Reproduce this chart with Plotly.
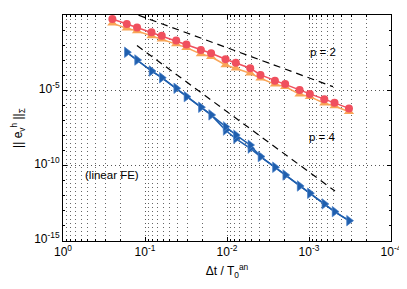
import plotly.graph_objects as go

# time step sizes dt / T0
dt = [0.25, 0.1667, 0.125, 0.08333, 0.0625, 0.04167, 0.03125, 0.02083, 0.015625, 0.01042,
      0.0078125, 0.005208, 0.003906, 0.002604, 0.001953, 0.001302, 0.0009766, 0.000651,
      0.0004883, 0.0003255]
dt_p4 = dt[1:]

# p = 2 errors
err_red = [5.4e-1, 2.5e-1, 1.5e-1, 7.1e-2, 4.2e-2, 2.0e-2, 1.1e-2, 4.8e-3, 2.9e-3, 1.15e-3,
           6.8e-4, 2.9e-4, 1.05e-4, 4.4e-5, 2.6e-5, 1.05e-5, 5.8e-6, 2.6e-6, 1.5e-6, 6.3e-7]
err_orange = [2.8e-1, 1.3e-1, 8.7e-2, 4.1e-2, 2.45e-2, 1.2e-2, 6.8e-3, 2.6e-3, 1.7e-3, 4.8e-4,
              2.9e-4, 1.35e-4, 6.3e-5, 2.5e-5, 1.74e-5, 5.5e-6, 3.8e-6, 1.38e-6, 9.1e-7, 3.8e-7]
# p = 4 errors
err_blue = [3.35e-3, 1.03e-3, 1.92e-4, 6.9e-5, 1.37e-5, 3.8e-6, 7.6e-7, 2.34e-7, 3.9e-8, 1.1e-8,
            2.34e-9, 4.0e-10, 7.9e-11, 2.4e-11, 4.5e-12, 1.48e-12, 2.9e-13, 8.9e-14, 2.24e-14]
err_blue2 = [3.35e-3, 1.03e-3, 1.92e-4, 6.9e-5, 1.37e-5, 3.8e-6, 7.6e-7, 2.34e-7, 2.24e-8, 6.3e-9,
             1.41e-9, 4.0e-10, 7.9e-11, 2.4e-11, 4.5e-12, 1.48e-12, 2.9e-13, 8.9e-14, 2.24e-14]

# reference slope lines
ref2_dt = [0.12, 5.1e-4]
ref2_err = [0.972, 1.75e-5]
ref4_dt = [0.1253, 4.82e-4]
ref4_err = [9.4e-3, 2.07e-12]

xtick_vals = [1, 0.1, 0.01, 0.001, 0.0001]
xtick_text = ["10<sup>0</sup>", "10<sup>-1</sup>", "10<sup>-2</sup>", "10<sup>-3</sup>", "10<sup>-4</sup>"]
ytick_vals = [1, 1e-5, 1e-10, 1e-15]
ytick_text = ["10<sup>0</sup>", "10<sup>-5</sup>", "10<sup>-10</sup>", "10<sup>-15</sup>"]

RED = "#F0505E"
ORANGE = "#F9A557"
BLUE = "#1F5FAE"

fig = go.Figure()
fig.add_trace(go.Scatter(x=ref2_dt, y=ref2_err, mode="lines",
                         line=dict(color="black", width=1.2, dash="7px,5px")))
fig.add_trace(go.Scatter(x=ref4_dt, y=ref4_err, mode="lines",
                         line=dict(color="black", width=1.2, dash="7px,5px")))
fig.add_trace(go.Scatter(x=dt, y=err_orange, mode="lines+markers",
                         line=dict(color=ORANGE, width=1.5),
                         marker=dict(symbol="triangle-up", size=9, color=ORANGE)))
fig.add_trace(go.Scatter(x=dt, y=err_red, mode="lines+markers",
                         line=dict(color=RED, width=1.5),
                         marker=dict(symbol="circle", size=8, color=RED)))
fig.add_trace(go.Scatter(x=dt_p4, y=err_blue2, mode="lines+markers",
                         line=dict(color=BLUE, width=1.5),
                         marker=dict(symbol="triangle-right", size=9, color=BLUE,
                                     line=dict(color="#6E9BD6", width=0.5))))
fig.add_trace(go.Scatter(x=dt_p4, y=err_blue, mode="lines+markers",
                         line=dict(color=BLUE, width=1.5),
                         marker=dict(symbol="triangle-right", size=9, color=BLUE,
                                     line=dict(color="#6E9BD6", width=0.5))))

FONT = "Liberation Sans, Arial, sans-serif"
fig.add_annotation(x=-3.17, y=-2.455, xref="x", yref="y", text="p = 2", showarrow=False,
                   font=dict(size=11.5, color="black", family=FONT))
fig.add_annotation(x=-3.17, y=-8.1, xref="x", yref="y", text="p = 4", showarrow=False,
                   font=dict(size=11.5, color="black", family=FONT))
fig.add_annotation(x=-0.6, y=-10.62, xref="x", yref="y", text="(linear FE)", showarrow=False,
                   font=dict(size=11.5, color="black", family=FONT))

fig.update_xaxes(type="log", range=[0, -4], tickvals=xtick_vals, ticktext=xtick_text,
                 automargin=False,
                 showline=True, linecolor="black", linewidth=1, mirror="ticks",
                 ticks="inside", ticklen=4, tickcolor="black",
                 showgrid=True, gridcolor="#555555", griddash="1px,3px", gridwidth=1,
                 minor=dict(dtick="D1", showgrid=True, gridcolor="#666666", griddash="1px,3px",
                            gridwidth=1, ticks="inside", ticklen=2, tickcolor="black"),
                 zeroline=False,
                 tickfont=dict(size=12, family=FONT, color="black"),
                 title=dict(text="Δt / T<sub>0</sub><sup>an</sup>", standoff=8,
                            font=dict(size=12, family=FONT, color="black")))
fig.update_yaxes(type="log", range=[-15, 0], tickvals=ytick_vals, ticktext=ytick_text,
                 automargin=False, ticklabelshift=-2,
                 showline=True, linecolor="black", linewidth=1, mirror="ticks",
                 ticks="inside", ticklen=4, tickcolor="black",
                 showgrid=True, gridcolor="#555555", griddash="1px,3px", gridwidth=1,
                 minor=dict(dtick=1, showgrid=False, ticks="inside", ticklen=2, tickcolor="black"),
                 zeroline=False,
                 tickfont=dict(size=12, family=FONT, color="black"),
                 title=dict(text="|| e<sub>v</sub><sup>h</sup> ||<sub>Σ</sub>", standoff=8,
                            font=dict(size=12, family=FONT, color="black")))

# page body adds an 8px margin, so the figure is sized/offset to compensate
fig.update_layout(width=399, height=281, showlegend=False,
                  margin=dict(l=55, r=16, t=7, b=48),
                  paper_bgcolor="white", plot_bgcolor="white",
                  font=dict(family=FONT, color="black"))

fig.write_html("out.html")
